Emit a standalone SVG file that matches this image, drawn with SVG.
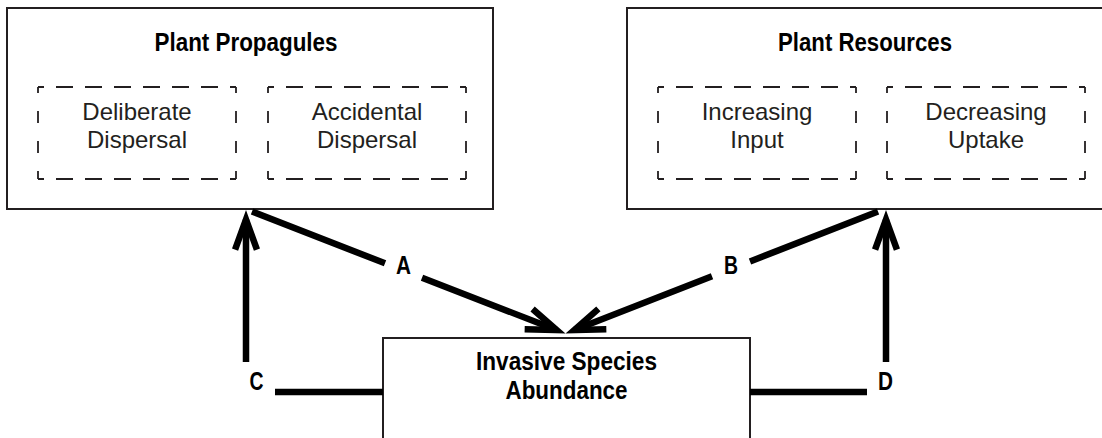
<svg xmlns="http://www.w3.org/2000/svg" width="1102" height="438" viewBox="0 0 1102 438">
<style>
.box{fill:#fff;stroke:#231f20;stroke-width:2}
.dh{stroke:#231f20;stroke-width:1.8;fill:none;stroke-dasharray:17 12;stroke-dashoffset:11}
.dv{stroke:#231f20;stroke-width:1.8;fill:none;stroke-dasharray:12 18;stroke-dashoffset:6}
.t{font-family:"Liberation Sans",Arial,sans-serif;font-size:25px;font-weight:bold;fill:#000;text-anchor:middle}
.r{font-family:"Liberation Sans",Arial,sans-serif;font-size:24px;fill:#231f20;text-anchor:middle}
.lbl{font-family:"Liberation Sans",Arial,sans-serif;font-size:25px;font-weight:bold;fill:#000;text-anchor:middle}
.c{fill:none;stroke:#000;stroke-width:6.5;stroke-linecap:butt;marker-end:url(#ah)}
</style>
<defs>
<marker id="ah" markerUnits="userSpaceOnUse" orient="auto" overflow="visible" markerWidth="1" markerHeight="1" refX="0" refY="0">
<path d="M-30.07,-10.94 L0,0 L-30.07,10.94" fill="none" stroke="#000" stroke-width="6.5" stroke-linejoin="miter" stroke-miterlimit="10"/>
</marker>
</defs>
<rect width="1102" height="438" fill="#fff"/>

<g id="plant-propagules">
<rect class="box" x="7" y="8" width="486" height="201"/>
<text class="t" x="246" y="51" textLength="183" lengthAdjust="spacingAndGlyphs">Plant Propagules</text>
<g id="deliberate-dispersal">
<line class="dh" x1="38" y1="87" x2="236" y2="87"/>
<line class="dh" x1="38" y1="179" x2="236" y2="179"/>
<line class="dv" x1="38" y1="87" x2="38" y2="179"/>
<line class="dv" x1="236" y1="87" x2="236" y2="179"/>
<text class="r" x="137" y="120">Deliberate</text>
<text class="r" x="137" y="148">Dispersal</text>
</g>
<g id="accidental-dispersal">
<line class="dh" x1="268" y1="87" x2="466" y2="87"/>
<line class="dh" x1="268" y1="179" x2="466" y2="179"/>
<line class="dv" x1="268" y1="87" x2="268" y2="179"/>
<line class="dv" x1="466" y1="87" x2="466" y2="179"/>
<text class="r" x="367" y="120">Accidental</text>
<text class="r" x="367" y="148">Dispersal</text>
</g>
</g>

<g id="plant-resources">
<rect class="box" x="627" y="8" width="486" height="201"/>
<text class="t" x="865" y="51" textLength="174" lengthAdjust="spacingAndGlyphs">Plant Resources</text>
<g id="increasing-input">
<line class="dh" x1="658" y1="87" x2="856" y2="87"/>
<line class="dh" x1="658" y1="179" x2="856" y2="179"/>
<line class="dv" x1="658" y1="87" x2="658" y2="179"/>
<line class="dv" x1="856" y1="87" x2="856" y2="179"/>
<text class="r" x="757" y="120">Increasing</text>
<text class="r" x="757" y="148">Input</text>
</g>
<g id="decreasing-uptake">
<line class="dh" x1="887" y1="87" x2="1085" y2="87"/>
<line class="dh" x1="887" y1="179" x2="1085" y2="179"/>
<line class="dv" x1="887" y1="87" x2="887" y2="179"/>
<line class="dv" x1="1085" y1="87" x2="1085" y2="179"/>
<text class="r" x="986" y="120">Decreasing</text>
<text class="r" x="986" y="148">Uptake</text>
</g>
</g>

<g id="invasive-species-abundance">
<rect class="box" x="383" y="338" width="367" height="130"/>
<text class="t" x="566.5" y="370" textLength="181" lengthAdjust="spacingAndGlyphs">Invasive Species</text>
<text class="t" x="566.5" y="399" textLength="122" lengthAdjust="spacingAndGlyphs">Abundance</text>
</g>

<g id="connectors">
<path class="c" d="M252,211.5 L385,263.3 M422,277.7 L556.65,330.05"/>
<path class="c" d="M878,211.5 L750,261.5 M712,276.3 L574.35,330.05"/>
<path class="c" d="M383,392 H275 M246,362 V219.5"/>
<path class="c" d="M750,392 H867 M886,362 V219.5"/>
<text class="lbl" x="403.5" y="273.5" textLength="15" lengthAdjust="spacingAndGlyphs">A</text>
<text class="lbl" x="731" y="273.5" textLength="14" lengthAdjust="spacingAndGlyphs">B</text>
<text class="lbl" x="256.5" y="390" textLength="14" lengthAdjust="spacingAndGlyphs">C</text>
<text class="lbl" x="885.5" y="390" textLength="15" lengthAdjust="spacingAndGlyphs">D</text>
</g>
</svg>
